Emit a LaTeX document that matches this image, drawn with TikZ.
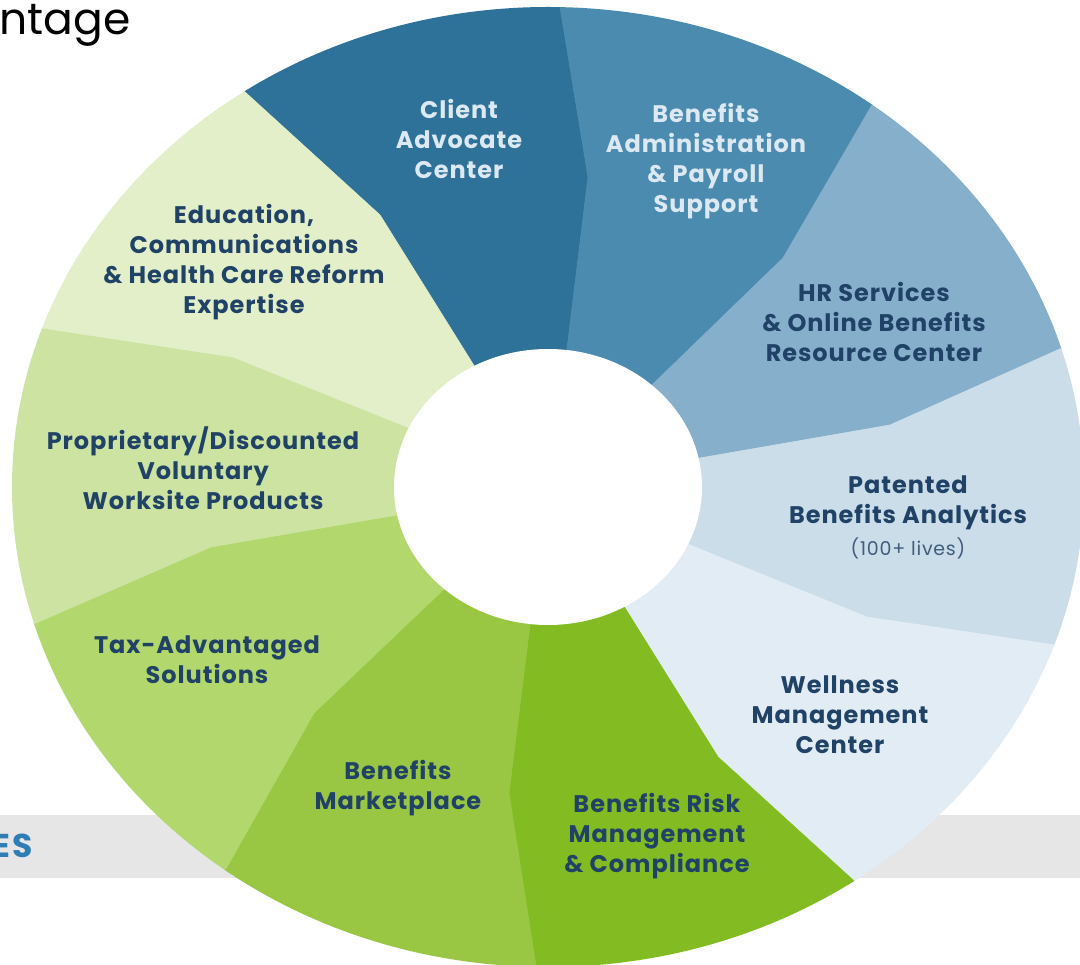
\documentclass[tikz,border=0pt]{standalone}
\usepackage{fontspec}
\setmainfont{Poppins}[LetterSpace=4]
\newfontfamily\titlefont{Poppins}
\usetikzlibrary{calc,positioning}

\definecolor{navy}{HTML}{1F4266}
\definecolor{pale}{HTML}{DCE9F3}
\definecolor{esblue}{HTML}{2E7DB5}
\definecolor{band}{HTML}{E6E6E6}
\definecolor{client}{HTML}{2E7199}
\definecolor{admin}{HTML}{4C8BB0}
\definecolor{hrserv}{HTML}{85AFCB}
\definecolor{patent}{HTML}{CADDE9}
\definecolor{well}{HTML}{E2ECF4}
\definecolor{risk}{HTML}{82BC22}
\definecolor{market}{HTML}{99C643}
\definecolor{tax}{HTML}{B2D76D}
\definecolor{propr}{HTML}{CCE3A2}
\definecolor{educ}{HTML}{E2EFC9}

\begin{document}
\begin{tikzpicture}[x=1pt,y=-1pt,
  lbl/.style={align=center,font=\bfseries\fontsize{24}{30}\selectfont,text=navy},
  lbllight/.style={lbl,text=pale}]
\newcommand{\fillpart}[3]{\fill[#1,draw=#1,line width=0.6pt] (c) -- (in#2) -- (bd#2) -- (out#2) -- (far#2) -- (far#3) -- (out#3) -- (bd#3) -- (in#3) -- cycle;}

\useasboundingbox (0,0) rectangle (1080,965);

% grey band behind the wheel
\fill[band] (0,815) rectangle (1080,878);
\node[anchor=east,font=\bfseries\fontsize{33}{33}\selectfont,text=esblue] (es) at (36,846) {ES};
\node[anchor=base west,font=\titlefont\fontsize{44}{44}\selectfont] (title) at (-4,35) {ntage};

\coordinate (c) at (548,487);
% dividers: inner end, bend, outer end
\coordinate (in1) at (473,364); \coordinate (bd1) at (380,215); \coordinate (out1) at (245,92);
\coordinate (in2) at (567,349); \coordinate (bd2) at (588,177); \coordinate (out2) at (560,7);
\coordinate (in3) at (653,384); \coordinate (bd3) at (783,258); \coordinate (out3) at (872,105);
\coordinate (in4) at (700,458); \coordinate (bd4) at (890,425); \coordinate (out4) at (1062,348);
\coordinate (in5) at (690,545); \coordinate (bd5) at (867,617); \coordinate (out5) at (1055,645);
\coordinate (in6) at (625,608); \coordinate (bd6) at (718,757); \coordinate (out6) at (853,880);
\coordinate (in7) at (530,625); \coordinate (bd7) at (509,793); \coordinate (out7) at (536,966);
\coordinate (in8) at (443,590); \coordinate (bd8) at (314,713); \coordinate (out8) at (227,867);
\coordinate (in9) at (397,515); \coordinate (bd9) at (211,547); \coordinate (out9) at (36,623);
\coordinate (in10) at (407,427); \coordinate (bd10) at (233,357); \coordinate (out10) at (42,328);
\foreach \i in {1,...,10} \coordinate (far\i) at ($(c)!2.2!(out\i)$);

\begin{scope}
\clip (c) ellipse [x radius=536pt, y radius=480pt];
\fillpart{client}{1}{2}
\fillpart{admin}{2}{3}
\fillpart{hrserv}{3}{4}
\fillpart{patent}{4}{5}
\fillpart{well}{5}{6}
\fillpart{risk}{6}{7}
\fillpart{market}{7}{8}
\fillpart{tax}{8}{9}
\fillpart{propr}{9}{10}
\fillpart{educ}{10}{1}
\end{scope}
\fill[white] (c) ellipse [x radius=154pt, y radius=138pt];

\node[lbllight] (clientlbl) at (459,139) {Client\\Advocate\\Center};
\node[lbllight] (adminlbl) at (706,161) {Benefits\\Administration\\\& Payroll\\Support};
\node[lbl] (hrlbl) at (874,322) {HR Services\\\& Online Benefits\\Resource Center};
\node[lbl] (patlbl) at (908,503) {Patented\\Benefits Analytics};
\node[font=\fontsize{19}{22}\selectfont,text=navy!85,below=1pt of patlbl] (liveslbl) {(100+ lives)};
\node[lbl] (welllbl) at (840,715) {Wellness\\Management\\Center};
\node[lbl] (risklbl) at (657,836) {Benefits Risk\\Management\\\& Compliance};
\node[lbl] (marketlbl) at (398,788) {Benefits\\Marketplace};
\node[lbl] (taxlbl) at (207,660) {Tax-Advantaged\\Solutions};
\node[lbl] (proplbl) at (203,468) {Proprietary/Discounted\\Voluntary\\Worksite Products};
\node[lbl] (educlbl) at (244,262) {Education,\\Communications\\\& Health Care Reform\\Expertise};
\end{tikzpicture}
\end{document}
